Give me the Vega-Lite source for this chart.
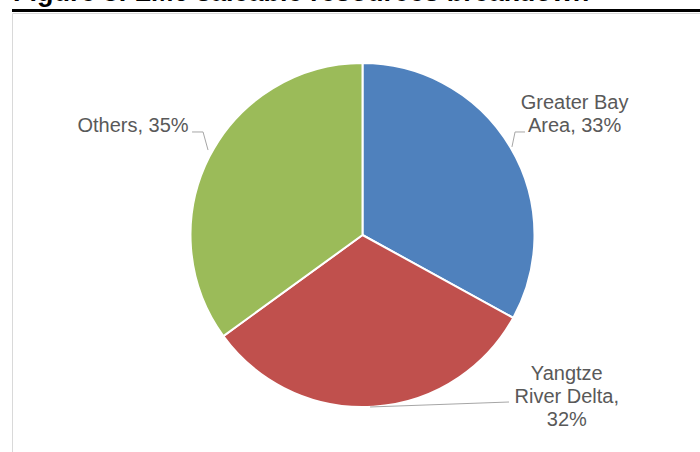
{
  "$schema": "https://vega.github.io/schema/vega-lite/v6.json",
  "width": 701,
  "height": 444,
  "autosize": {"type": "none"},
  "padding": {"left": 12, "top": 13, "right": -13, "bottom": -5},
  "background": "white",
  "config": {"view": {"stroke": "#D9D9D9", "strokeWidth": 1}, "font": "Liberation Sans"},
  "datasets": {
    "shares": [
      {"category": "Greater Bay Area", "share": 33, "order": 1, "label": "Greater Bay\nArea, 33%"},
      {"category": "Yangtze River Delta", "share": 32, "order": 2, "label": "Yangtze\nRiver Delta,\n32%"},
      {"category": "Others", "share": 35, "order": 3, "label": "Others, 35%"}
    ],
    "leaders": [
      {"x": 0.869, "y": 0.512, "x2": 0.887, "y2": 0.599},
      {"x": 0.887, "y": 0.599, "x2": 0.945, "y2": 0.599},
      {"x": -0.898, "y": 0.494, "x2": -0.927, "y2": 0.599},
      {"x": -0.927, "y": 0.599, "x2": -0.991, "y2": 0.599},
      {"x": 0.044, "y": -1.0, "x2": 0.852, "y2": -0.971}
    ],
    "heading": [{"text": "Figure 8: LM6 saleable resources breakdown"}]
  },
  "layer": [
    {
      "data": {"name": "shares"},
      "mark": {"type": "arc", "outerRadius": 172, "stroke": "white", "strokeWidth": 2},
      "encoding": {
        "theta": {"field": "share", "type": "quantitative", "stack": true},
        "order": {"field": "order", "type": "quantitative"},
        "color": {
          "field": "category",
          "type": "nominal",
          "scale": {"domain": ["Greater Bay Area", "Yangtze River Delta", "Others"], "range": ["#4F81BD", "#C0504D", "#9BBB59"]},
          "legend": null
        }
      }
    },
    {
      "data": {"name": "shares"},
      "mark": {"type": "text", "radius": 250, "thetaOffset": -0.024, "fontSize": 20, "lineHeight": 23, "lineBreak": "\n", "color": "#595959", "align": "center", "baseline": "middle"},
      "encoding": {
        "theta": {"field": "share", "type": "quantitative", "stack": true},
        "order": {"field": "order", "type": "quantitative"},
        "text": {"condition": {"test": "datum.category === 'Greater Bay Area'", "field": "label"}, "value": ""}
      }
    },
    {
      "data": {"name": "shares"},
      "mark": {"type": "text", "radius": 254, "thetaOffset": -0.028, "fontSize": 20, "lineHeight": 23, "lineBreak": "\n", "color": "#595959", "align": "center", "baseline": "middle"},
      "encoding": {
        "theta": {"field": "share", "type": "quantitative", "stack": true},
        "order": {"field": "order", "type": "quantitative"},
        "text": {"condition": {"test": "datum.category === 'Others'", "field": "label"}, "value": ""}
      }
    },
    {
      "data": {"name": "shares"},
      "mark": {"type": "text", "radius": 247, "thetaOffset": -0.911, "fontSize": 20, "lineHeight": 23, "lineBreak": "\n", "color": "#595959", "align": "center", "baseline": "middle"},
      "encoding": {
        "theta": {"field": "share", "type": "quantitative", "stack": true},
        "order": {"field": "order", "type": "quantitative"},
        "text": {"condition": {"test": "datum.category === 'Yangtze River Delta'", "field": "label"}, "value": ""}
      }
    },
    {
      "data": {"name": "leaders"},
      "mark": {"type": "rule", "color": "#A6A6A6", "strokeWidth": 1},
      "encoding": {
        "x": {"field": "x", "type": "quantitative", "scale": {"domain": [-2.0378, 2.0378], "nice": false, "zero": false}, "axis": null},
        "y": {"field": "y", "type": "quantitative", "scale": {"domain": [-1.2907, 1.2907], "nice": false, "zero": false}, "axis": null},
        "x2": {"field": "x2"},
        "y2": {"field": "y2"}
      }
    },
    {
      "data": {"values": [{}]},
      "mark": {"type": "rule", "color": "black", "strokeWidth": 3},
      "encoding": {
        "y": {"datum": 1.3052, "type": "quantitative", "scale": {"domain": [-1.2907, 1.2907], "nice": false, "zero": false}, "axis": null}
      }
    },
    {
      "data": {"name": "heading"},
      "mark": {"type": "text", "align": "left", "baseline": "alphabetic", "fontSize": 27, "fontWeight": "bold", "color": "black"},
      "encoding": {
        "x": {"datum": -2.032, "type": "quantitative", "scale": {"domain": [-2.0378, 2.0378], "nice": false, "zero": false}, "axis": null},
        "y": {"datum": 1.3605, "type": "quantitative", "scale": {"domain": [-1.2907, 1.2907], "nice": false, "zero": false}, "axis": null},
        "text": {"field": "text"}
      }
    }
  ]
}
